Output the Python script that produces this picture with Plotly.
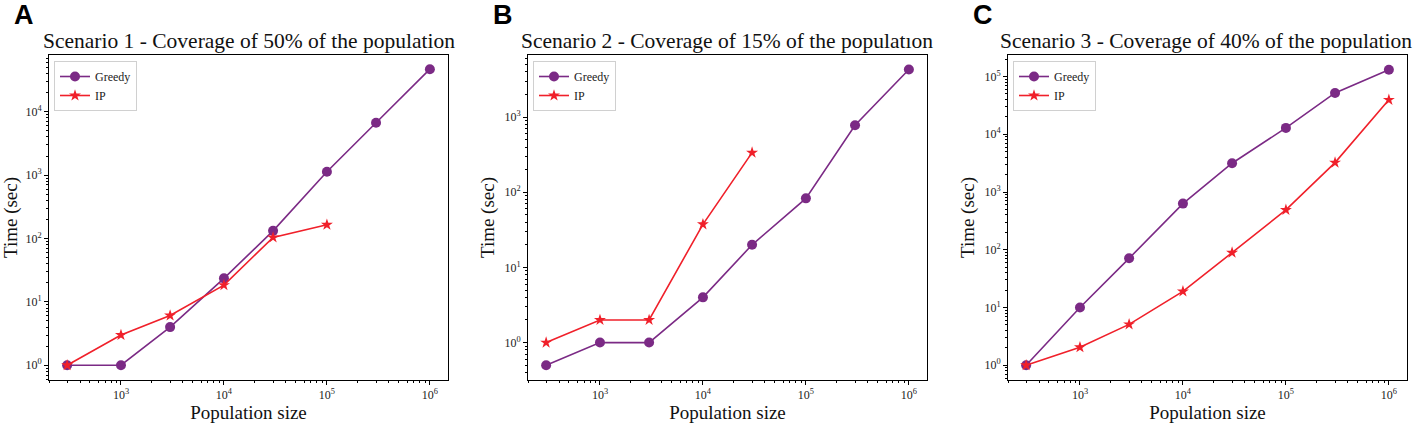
import plotly.graph_objects as go

# population sizes (shared x values)
pop = [300, 1000, 3000, 10000, 30000, 100000, 300000, 1000000]

# scenario 1 - 50% coverage
greedy_1 = [1, 1, 4, 23.5, 132, 1130, 6700, 47000]
ip_1 = [1, 3, 6.1, 18.4, 104, 165]

# scenario 2 - 15% coverage
greedy_2 = [0.5, 1, 1, 4, 20, 83, 780, 4300]
ip_2 = [1, 2, 2, 37.5, 337]

# scenario 3 - 40% coverage
greedy_3 = [1, 10, 71, 630, 3150, 12900, 52000, 131000]
ip_3 = [1, 2.05, 5.1, 19, 89, 490, 3230, 39500]

titles = [
    "Scenario 1 - Coverage of 50% of the population",
    "Scenario 2 - Coverage of 15% of the populatıon",
    "Scenario 3 - Coverage of 40% of the population",
]
letters = ["A", "B", "C"]
y_ranges = [(-0.233, 4.896), (-0.498, 3.827), (-0.256, 5.373)]
y_decades = [[0, 1, 2, 3, 4], [0, 1, 2, 3], [0, 1, 2, 3, 4, 5]]
x_decades = [3, 4, 5, 6]

PURPLE = "#7B2A85"
RED = "#F0202A"
SERIF = "Liberation Serif, Times New Roman, serif"

W, H = 1417, 426
x_px = [(49, 448), (528, 927), (1008, 1407)]
y_dom = [1 - 380 / H, 1 - 55 / H]


def pow_labels(exps):
    return [10 ** e for e in exps], ["10<sup>%d</sup>" % e for e in exps]


fig = go.Figure()
series = [(greedy_1, ip_1), (greedy_2, ip_2), (greedy_3, ip_3)]

for i, (g, ip) in enumerate(series):
    n = "" if i == 0 else str(i + 1)
    fig.add_trace(go.Scatter(
        x=pop[:len(g)], y=g, name="Greedy", mode="lines+markers",
        line=dict(color=PURPLE, width=1.6),
        marker=dict(symbol="circle", size=10, color=PURPLE),
        xaxis="x" + n, yaxis="y" + n, legend="legend" + n,
    ))
    fig.add_trace(go.Scatter(
        x=pop[:len(ip)], y=ip, name="IP", mode="lines+markers",
        line=dict(color=RED, width=1.6),
        marker=dict(symbol="star", size=9, color=RED),
        xaxis="x" + n, yaxis="y" + n, legend="legend" + n,
    ))

    x0, x1 = x_px[i]
    axis_common = dict(
        type="log", showline=True, linecolor="black", linewidth=1, mirror=True,
        ticks="outside", ticklen=4, tickcolor="black",
        showgrid=False, zeroline=False,
        tickfont=dict(family=SERIF, size=12, color="#222"),
        minor=dict(ticks="outside", ticklen=2, tickcolor="black", dtick="D1", showgrid=False),
    )
    xv, xt = pow_labels(x_decades)
    yv, yt = pow_labels(y_decades[i])
    fig.layout["xaxis" + n] = dict(
        axis_common, domain=[x0 / W, x1 / W], anchor="y" + n,
        range=[2.301, 6.176], tickmode="array", tickvals=xv, ticktext=xt,
        title=dict(text="Population size", standoff=4,
                   font=dict(family=SERIF, size=19, color="#111")),
    )
    fig.layout["yaxis" + n] = dict(
        axis_common, domain=y_dom, anchor="x" + n,
        range=list(y_ranges[i]), tickmode="array", tickvals=yv, ticktext=yt,
        title=dict(text="Time (sec)", standoff=4,
                   font=dict(family=SERIF, size=19, color="#111")),
    )
    fig.layout["legend" + n] = dict(
        x=(x0 + 5) / W, y=1 - 61 / H, xanchor="left", yanchor="top",
        bgcolor="white", bordercolor="#d0d0d0", borderwidth=1,
        font=dict(family=SERIF, size=12, color="#222"),
        itemwidth=30, tracegroupgap=0,
    )
    fig.add_annotation(
        text=titles[i], x=(x0 + x1) / 2 / W - (2 / W if i == 2 else 0), y=1 - 41 / H,
        xref="paper", yref="paper", showarrow=False,
        xanchor="center", yanchor="middle",
        font=dict(family=SERIF, size=21.5, color="#111"),
    )
    fig.add_annotation(
        text="<b>" + letters[i] + "</b>", x=(x0 - 37) / W, y=1 - 15 / H,
        xref="paper", yref="paper", showarrow=False,
        xanchor="left", yanchor="middle",
        font=dict(family="Liberation Sans, Arial, sans-serif", size=27, color="black"),
    )

fig.update_layout(
    width=W, height=H, margin=dict(l=0, r=0, t=0, b=0),
    plot_bgcolor="white", paper_bgcolor="white",
)

fig.write_html("out.html", config={"displayModeBar": False},
               post_script="document.body.style.margin='0px';")
